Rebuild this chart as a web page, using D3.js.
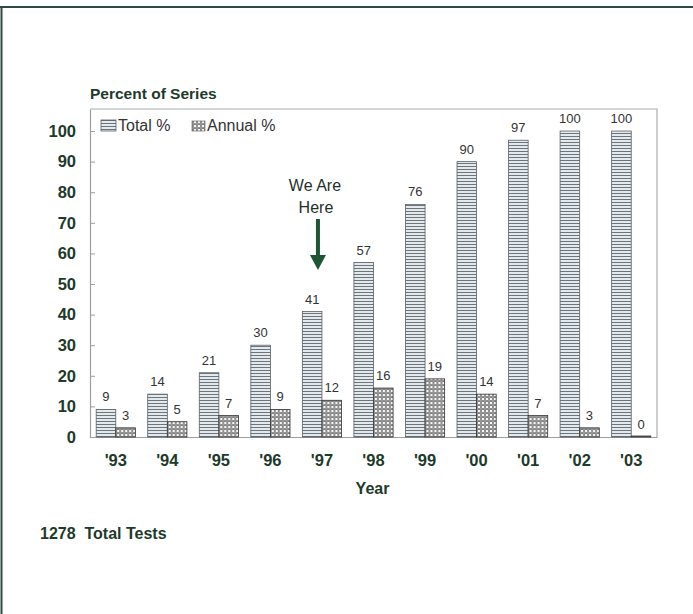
<!DOCTYPE html>
<html>
<head>
<meta charset="utf-8">
<script src="https://cdn.jsdelivr.net/npm/d3@7"></script>
<style>
  html, body { margin: 0; padding: 0; background: #fff; }
  svg { display: block; }
  text { font-family: "Liberation Sans", Arial, sans-serif; }
</style>
</head>
<body>
<script>
// Series data
const years = ["'93", "'94", "'95", "'96", "'97", "'98", "'99", "'00", "'01", "'02", "'03"];
const totalPct = [9, 14, 21, 30, 41, 57, 76, 90, 97, 100, 100];
const annualPct = [3, 5, 7, 9, 12, 16, 19, 14, 7, 3, 0];
const yTicks = [0, 10, 20, 30, 40, 50, 60, 70, 80, 90, 100];
const seriesNames = ["Total %", "Annual %"];
const markerYear = "'97";

const W = 693, H = 614;
const margin = { left: 90, right: 36, top: 109, bottom: 177 };
const plotW = W - margin.left - margin.right;
const plotH = H - margin.top - margin.bottom;
const textColor = "#1d3a2b";

const svg = d3.select("body").append("svg").attr("width", W).attr("height", H);

// Fill patterns for the two series
const defs = svg.append("defs");
const pTotal = defs.append("pattern").attr("id", "pat-total")
  .attr("patternUnits", "userSpaceOnUse").attr("width", 6).attr("height", 3);
pTotal.append("rect").attr("width", 6).attr("height", 3).attr("fill", "#e2e9ef");
pTotal.append("rect").attr("width", 6).attr("height", 1).attr("fill", "#6f7479");

const pAnnual = defs.append("pattern").attr("id", "pat-annual")
  .attr("patternUnits", "userSpaceOnUse").attr("width", 4).attr("height", 4);
pAnnual.append("rect").attr("width", 4).attr("height", 4).attr("fill", "#4c4c4c");
pAnnual.append("circle").attr("cx", 2).attr("cy", 2).attr("r", 1.55).attr("fill", "#f6f6f6");
pAnnual.append("circle").attr("cx", 0).attr("cy", 0).attr("r", 1.0).attr("fill", "#b0b0b0");
pAnnual.append("circle").attr("cx", 4).attr("cy", 0).attr("r", 1.0).attr("fill", "#b0b0b0");
pAnnual.append("circle").attr("cx", 0).attr("cy", 4).attr("r", 1.0).attr("fill", "#b0b0b0");
pAnnual.append("circle").attr("cx", 4).attr("cy", 4).attr("r", 1.0).attr("fill", "#b0b0b0");

// Page frame (top and left rules)
svg.append("line").attr("x1", 0).attr("x2", W).attr("y1", 7).attr("y2", 7)
  .attr("stroke", "#2f4a42").attr("stroke-width", 2);
svg.append("line").attr("x1", 1.5).attr("x2", 1.5).attr("y1", 6).attr("y2", H)
  .attr("stroke", "#2f4a42").attr("stroke-width", 2);

const g = svg.append("g").attr("transform", `translate(${margin.left},${margin.top})`);

const x = d3.scaleBand().domain(years).range([0, plotW]).paddingInner(0.24).paddingOuter(0.12);
const xs = d3.scaleBand().domain(seriesNames).range([0, x.bandwidth()]);
const y = d3.scaleLinear().domain([0, 107.2]).range([plotH, 0]);

// Plot frame (top and right)
g.append("path")
  .attr("d", `M0,0H${plotW}V${plotH}`)
  .attr("fill", "none").attr("stroke", "#a9adac").attr("stroke-width", 1.2);

// Y axis
const yAxis = g.append("g")
  .call(d3.axisLeft(y).tickValues(yTicks).tickSizeInner(-5).tickSizeOuter(0).tickPadding(14));
yAxis.select(".domain").attr("stroke", "#9aa09e").attr("stroke-width", 1.2);
yAxis.selectAll(".tick line").attr("stroke", "#9aa09e");
yAxis.selectAll("text").attr("fill", textColor).attr("font-size", 16.5).attr("font-weight", "bold");

// X axis
const xAxis = g.append("g").attr("transform", `translate(0,${plotH})`)
  .call(d3.axisBottom(x).tickSize(0).tickPadding(17));
xAxis.select(".domain").attr("stroke", "#9aa09e").attr("stroke-width", 1.2);
xAxis.selectAll("text").attr("fill", textColor).attr("font-size", 16.5).attr("font-weight", "bold");

// Bars
const rows = years.map((yr, i) => ({ year: yr, total: totalPct[i], annual: annualPct[i] }));
const groups = g.selectAll(".yr").data(rows).join("g")
  .attr("class", "yr").attr("transform", d => `translate(${x(d.year)},0)`);

groups.append("rect")
  .attr("x", xs("Total %")).attr("width", xs.bandwidth())
  .attr("y", d => y(d.total)).attr("height", d => plotH - y(d.total))
  .attr("fill", "url(#pat-total)").attr("stroke", "#5a5f63").attr("stroke-width", 0.8);

groups.append("rect")
  .attr("x", xs("Annual %")).attr("width", xs.bandwidth())
  .attr("y", d => y(d.annual) - (d.annual === 0 ? 1 : 0))
  .attr("height", d => Math.max(plotH - y(d.annual), 1))
  .attr("fill", "url(#pat-annual)").attr("stroke", "#333").attr("stroke-width", 0.8);

// Value labels
groups.append("text")
  .attr("x", xs("Total %") + xs.bandwidth() / 2).attr("y", d => y(d.total) - 8)
  .attr("text-anchor", "middle").attr("font-size", 13).attr("fill", "#333")
  .text(d => d.total);
groups.append("text")
  .attr("x", xs("Annual %") + xs.bandwidth() / 2).attr("y", d => y(d.annual) - 8)
  .attr("text-anchor", "middle").attr("font-size", 13).attr("fill", "#333")
  .text(d => d.annual);

// Legend
const legend = g.append("g").attr("transform", "translate(11,11)");
legend.append("rect").attr("x", 0).attr("y", 0).attr("width", 15).attr("height", 11)
  .attr("fill", "url(#pat-total)").attr("stroke", "#5a5f63").attr("stroke-width", 0.8);
legend.append("text").attr("x", 17).attr("y", 11).attr("font-size", 16).attr("fill", "#333").text(seriesNames[0]);
legend.append("rect").attr("x", 91).attr("y", 1).attr("width", 13).attr("height", 10)
  .attr("fill", "url(#pat-annual)").attr("stroke", "#555").attr("stroke-width", 0.6);
legend.append("text").attr("x", 106).attr("y", 11).attr("font-size", 16).attr("fill", "#333").text(seriesNames[1]);

// "We Are Here" marker
const ax = x(markerYear) + xs("Annual %") - 4;
const note = g.append("g").attr("fill", textColor);
note.append("text").attr("x", ax - 3).attr("y", 82).attr("text-anchor", "middle")
  .attr("font-size", 16).attr("fill", "#1f2f27").text("We Are");
note.append("text").attr("x", ax - 2).attr("y", 104).attr("text-anchor", "middle")
  .attr("font-size", 16).attr("fill", "#1f2f27").text("Here");
note.append("line").attr("x1", ax).attr("x2", ax).attr("y1", 110).attr("y2", 150)
  .attr("stroke", "#1e5535").attr("stroke-width", 4);
note.append("path").attr("d", `M${ax - 8},146L${ax + 8},146L${ax},161Z`).attr("fill", "#1e5535");

// Titles
svg.append("text").attr("x", 90).attr("y", 99).attr("font-size", 15.5).attr("font-weight", "bold")
  .attr("fill", textColor).text("Percent of Series");
svg.append("text").attr("x", margin.left + plotW / 2 - 1).attr("y", 494).attr("text-anchor", "middle")
  .attr("font-size", 16).attr("font-weight", "bold").attr("fill", textColor).text("Year");
svg.append("text").attr("x", 40).attr("y", 539).attr("font-size", 16).attr("font-weight", "bold")
  .attr("fill", textColor).attr("xml:space", "preserve").text("1278  Total Tests");
</script>
</body>
</html>
